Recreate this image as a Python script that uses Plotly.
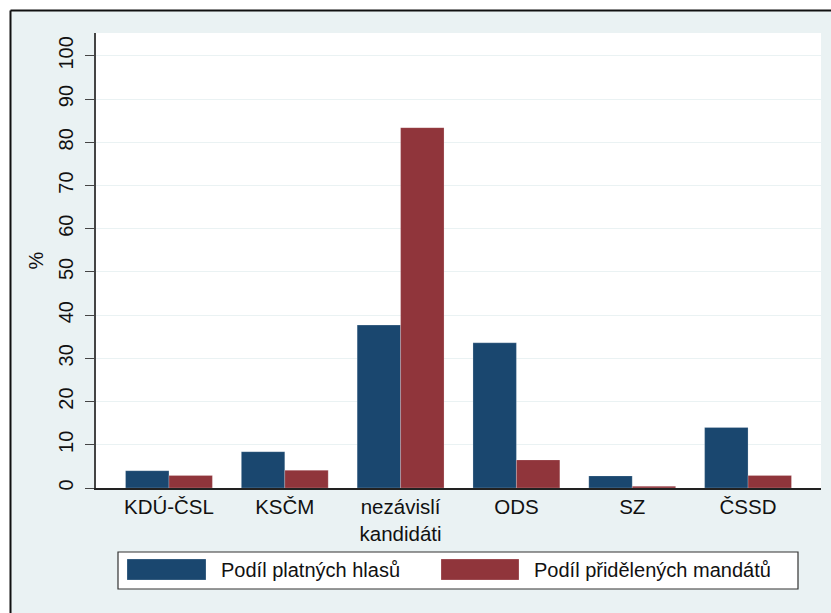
import plotly.graph_objects as go

categories = ["KDÚ-ČSL", "KSČM", "nezávislí<br>kandidáti", "ODS", "SZ", "ČSSD"]
votes_share = [4.0, 8.4, 37.7, 33.6, 2.8, 14.0]
seats_share = [2.9, 4.1, 83.4, 6.5, 0.4, 2.9]
series_names = ["Podíl platných hlasů", "Podíl přidělených mandátů"]
series_colors = ["#1a476f", "#90353b"]
y_ticks = [0, 10, 20, 30, 40, 50, 60, 70, 80, 90, 100]

W, H = 831, 613
L, R, T, B = 96, 821, 33, 488
PW, PH = R - L, B - T


def px(x):
    return (x - L) / PW


def py(y):
    return (B - y) / PH


FONT = "Liberation Sans, Arial, sans-serif"
BG = "#eaf2f3"

fig = go.Figure()
for name, vals, col in zip(series_names, [votes_share, seats_share], series_colors):
    fig.add_trace(go.Bar(
        x=categories, y=vals, name=name,
        marker=dict(color=col, line=dict(width=0.6, color="rgba(255,255,255,0.35)")),
        showlegend=False,
    ))

shapes = [
    # white strips outside the outer frame
    dict(type="rect", xref="paper", yref="paper", x0=px(-5), x1=px(10), y0=py(H + 5), y1=py(-5),
         fillcolor="white", line=dict(width=0), layer="below"),
    dict(type="rect", xref="paper", yref="paper", x0=px(-5), x1=px(W + 5), y0=py(10), y1=py(-5),
         fillcolor="white", line=dict(width=0), layer="below"),
    # frame lines
    dict(type="line", xref="paper", yref="paper", x0=px(10.5), x1=px(W + 5), y0=py(10.5), y1=py(10.5),
         line=dict(color="#111111", width=2)),
    dict(type="line", xref="paper", yref="paper", x0=px(10.5), x1=px(10.5), y0=py(10.5), y1=py(H + 5),
         line=dict(color="#111111", width=2)),
    # legend box
    dict(type="rect", xref="paper", yref="paper", x0=px(118), x1=px(798), y0=py(589), y1=py(552),
         fillcolor="white", line=dict(color="#333333", width=1.2)),
]
annotations = [
    dict(text="%", xref="paper", yref="paper", x=px(35), y=py(260.5), textangle=-90,
         showarrow=False, font=dict(family=FONT, size=20, color="#111111"),
         xanchor="center", yanchor="middle"),
]
sw_x = [(127, 206), (441, 519)]
txt_x = [219, 532]
for (a, b), tx, name, col in zip(sw_x, txt_x, series_names, series_colors):
    shapes.append(dict(type="rect", xref="paper", yref="paper", x0=px(a), x1=px(b),
                       y0=py(580), y1=py(559), fillcolor=col,
                       line=dict(color="rgba(255,255,255,0.4)", width=0.6)))
    annotations.append(dict(text=name, xref="paper", yref="paper", x=px(tx), y=py(570),
                            xanchor="left", yanchor="middle", showarrow=False,
                            font=dict(family=FONT, size=20, color="#111111")))

fig.update_layout(
    width=W, height=H,
    margin=dict(l=L, r=W - R, t=T, b=H - B, pad=0),
    paper_bgcolor=BG, plot_bgcolor="white",
    barmode="group", bargap=0.25, bargroupgap=0,
    font=dict(family=FONT, size=20, color="#111111"),
    shapes=shapes, annotations=annotations,
    showlegend=False,
    xaxis=dict(
        type="category", categoryorder="array", categoryarray=categories,
        range=[-0.63, 5.63], showgrid=False, zeroline=False,
        showline=True, linecolor="#222222", linewidth=1.5,
        ticks="", tickfont=dict(family=FONT, size=20.5, color="#111111"),
        fixedrange=True,
    ),
    yaxis=dict(
        range=[0, 105.3], tickvals=y_ticks, ticktext=[str(v) for v in y_ticks],
        showgrid=True, gridcolor=BG, gridwidth=1, zeroline=False,
        showline=True, linecolor="#444444", linewidth=1.5,
        ticks="outside", ticklen=9, tickcolor="#444444", tickwidth=1.2,
        tickangle=-90, ticklabelstandoff=4,
        tickfont=dict(family=FONT, size=20, color="#111111"),
        fixedrange=True,
    ),
)

fig.write_html(
    "out.html",
    config={"displayModeBar": False},
    post_script="document.body.style.margin='0px';document.body.style.overflow='hidden';",
)
